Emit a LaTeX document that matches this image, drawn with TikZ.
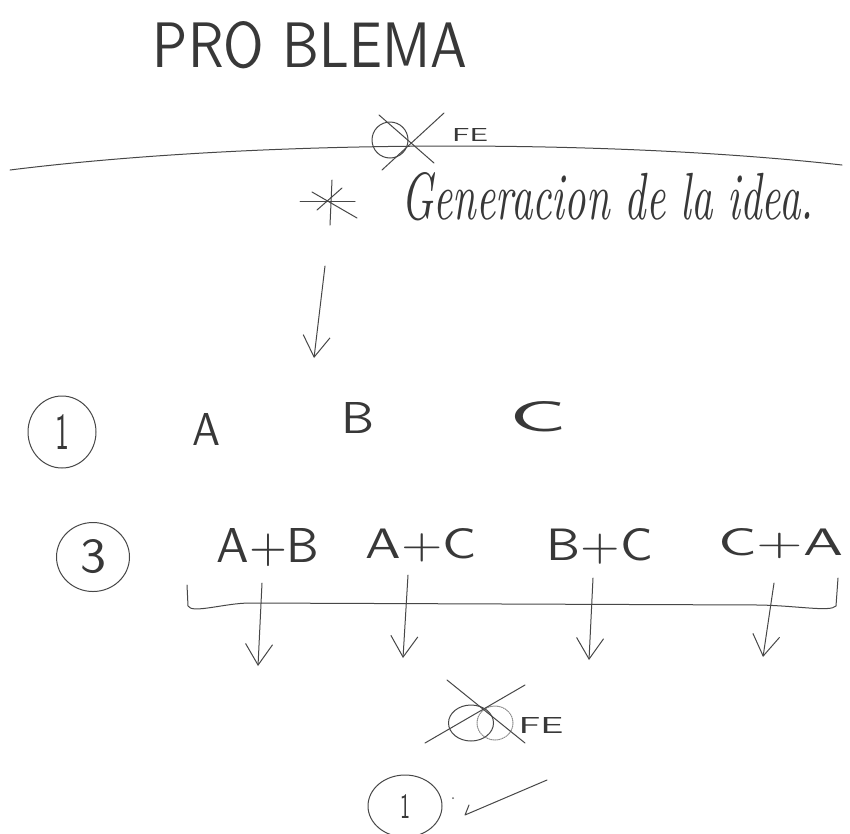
\documentclass[tikz,border=0pt]{standalone}
\usepackage{graphicx}
\usetikzlibrary{arrows.meta,shapes.geometric}
\newcommand{\fitbox}[3]{\resizebox{#1pt}{#2pt}{\strut\smash{#3}}}
\newcommand{\fitsz}[3]{\resizebox{#1pt}{#2pt}{#3}}
\begin{document}
\begin{tikzpicture}[x=1pt,y=-1pt,
  pen/.style={draw=black!72, line width=1pt, line cap=round, line join=round},
  barb/.style={pen, -{Straight Barb[length=21pt,width=27pt,line width=1pt]}},
  hand/.style={text=black!78, inner sep=0pt, font=\sffamily},
  ring/.style={pen, ellipse, inner sep=0pt, text=black!78, font=\sffamily}]
\useasboundingbox[fill=white] (0,0) rectangle (850,833);

% title
\node[hand] (title) at (310,45) {\fitsz{314}{46}{PRO BLEMA}};

% top crossed circle with FE
\node[pen, circle, minimum size=36pt, inner sep=0pt] (fe1) at (390,140) {};
\draw[pen] (fe1.center) ++(-11,-25) -- ++(55,48);
\draw[pen] (fe1.center) ++(54,-27) -- ++(-62,57);
\node[hand] (fe1t) at (470,135) {\fitsz{36}{13}{FE}};

% long line
\coordinate (l1) at (10,170);
\coordinate (l2) at (842,165);
\draw[pen] (l1) .. controls (250,140) and (600,138) .. (l2);

% asterisk + generation
\coordinate (star) at (330,202);
\draw[pen] (300,201) -- (355,201);
\draw[pen] (332,180) -- (330,225);
\draw[pen] (312,192) -- (357,218);
\draw[pen] (342,188) -- (317,210);
\node[hand, anchor=south west, font=\itshape] (gen) at (401,221) {\fitsz{412}{47}{Generacion de la idea.}};

% arrow down
\coordinate (a0) at (325,266);
\coordinate (a1) at (314,358);
\draw[barb] (a0) -- (a1);

% step 1
\node[ring, minimum width=68pt, minimum height=72pt] (one) at (62,432) {\fitsz{14}{35}{1}};
\node[hand] (A) at (206,429) {\fitsz{28}{32}{A}};
\node[hand] (B) at (358,418) {\fitsz{33}{31}{B}};
\node[hand] (C) at (538,417) {\fitsz{57}{30}{C}};

% step 3
\node[ring, minimum width=73pt, minimum height=69pt] (three) at (93,557) {\fitsz{26}{33}{3}};
\node[hand] (AB) at (268,548) {\fitsz{103}{34}{A+B}};
\node[hand] (AC) at (421,545) {\fitsz{111}{30}{A+C}};
\node[hand] (BC) at (600,546) {\fitsz{106}{32}{B+C}};
\node[hand] (CA) at (781,544) {\fitsz{125}{27}{C+A}};

% bracket
\coordinate (b1) at (187,585);
\coordinate (b2) at (838,578);
\draw[pen] (b1) -- (188,606) .. controls (192,614) and (225,603) .. (250,603)
  -- (760,605) .. controls (800,606) and (830,612) .. (836,606) -- (b2);

% four arrows
\coordinate (s1) at (262,583);
\coordinate (s2) at (408,575);
\coordinate (s3) at (593,578);
\coordinate (s4) at (774,583);
\coordinate (t1) at (258,666);
\coordinate (t2) at (403,658);
\coordinate (t3) at (589,660);
\coordinate (t4) at (763,657);
\draw[barb] (s1) -- (t1);
\draw[barb] (s2) -- (t2);
\draw[barb] (s3) -- (t3);
\draw[barb] (s4) -- (t4);

% bottom crossed circle with FE
\node[pen, ellipse, minimum width=45pt, minimum height=36pt, inner sep=0pt] (fe2) at (471,723) {};
\node[pen, draw=black!45, densely dotted, ellipse, minimum width=36pt, minimum height=34pt, inner sep=0pt] (fe2b) at (495,723) {};
\coordinate (x1) at (447,680);
\coordinate (x2) at (525,743);
\coordinate (x3) at (525,685);
\coordinate (x4) at (425,743);
\draw[pen] (x1) -- (x2);
\draw[pen] (x3) -- (x4);
\node[hand] (fe2t) at (541,725) {\fitsz{45}{16}{FE}};

% final 1 with check
\node[ring, minimum width=74pt, minimum height=62pt] (fin) at (405,806) {\fitsz{10}{24}{1}};
\node[fill=black!60, circle, inner sep=0pt, minimum size=2pt] (dot) at (453,798) {};
\coordinate (k0) at (469,805);
\coordinate (k1) at (465,815);
\coordinate (k2) at (547,780);
\draw[pen] (k0) -- (k1) -- (k2);
\end{tikzpicture}
\end{document}
